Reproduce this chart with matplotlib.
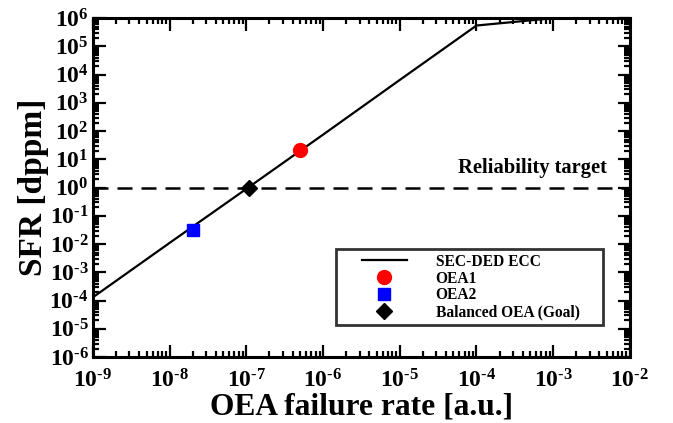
import numpy as np
import matplotlib
matplotlib.use('Agg')
import matplotlib.pyplot as plt
from matplotlib.lines import Line2D
from matplotlib.legend_handler import HandlerLine2D
from matplotlib.ticker import LogLocator, FuncFormatter, NullFormatter

plt.rcParams['font.family'] = 'Liberation Serif'
plt.rcParams['font.weight'] = 'bold'
plt.rcParams['mathtext.fontset'] = 'custom'
plt.rcParams['mathtext.rm'] = 'Liberation Serif:bold'
plt.rcParams['mathtext.bf'] = 'Liberation Serif:bold'

# SEC-DED ECC curve: silent failure rate vs OEA failure rate
oea_rate = [1e-9, 1e-8, 1e-7, 1e-6, 1e-5, 1e-4, 1e-3]
sfr = [1.3e-4, 1.1e-2, 0.9, 75, 6.5e3, 5.5e5, 1.0e6]

# operating points
oea1 = (5e-7, 21)
oea2 = (2e-8, 0.032)
balanced = (1.1e-7, 1.0)
target = 1.0

fig = plt.figure(figsize=(6.73, 4.23), dpi=100)
ax = fig.add_axes([0.138, 0.156, 0.798, 0.801])

ax.plot(oea_rate, sfr, color='black', lw=1.6, label='SEC-DED ECC', zorder=3)
ax.plot(*oea1, 'o', color='red', ms=10, ls='none', label='OEA1', zorder=4)
ax.plot(*oea2, 's', color='blue', ms=8.5, ls='none', label='OEA2', zorder=4)
ax.plot(*balanced, 'D', color='black', ms=8, ls='none', label='Balanced OEA (Goal)', zorder=5)
tl = ax.axhline(target, color='black', lw=1.8, zorder=2)
tl.set_dashes((6, 3.6))
ax.text(5e-3, 5, 'Reliability target', ha='right', va='center', fontsize=14.8, fontweight='bold')

ax.set_xscale('log')
ax.set_yscale('log')
ax.set_xlim(1e-9, 1e-2)
ax.set_ylim(1e-6, 1e6)

ax.xaxis.set_major_locator(LogLocator(base=10, numticks=20))
ax.yaxis.set_major_locator(LogLocator(base=10, numticks=20))
ax.xaxis.set_minor_locator(LogLocator(base=10, subs=np.arange(2, 10), numticks=200))
ax.yaxis.set_minor_locator(LogLocator(base=10, subs=np.arange(2, 10), numticks=200))
ax.xaxis.set_minor_formatter(NullFormatter())
ax.yaxis.set_minor_formatter(NullFormatter())


def decade(v, pos):
    e = int(round(np.log10(v)))
    if e < 0:
        return r'$\mathbf{10^{\text{-}%d}}$' % -e
    return r'$\mathbf{10^{%d}}$' % e


fmt = FuncFormatter(decade)
ax.xaxis.set_major_formatter(fmt)
ax.yaxis.set_major_formatter(fmt)

ax.tick_params(which='both', direction='in', top=True, right=True, width=1.6)
ax.tick_params(which='major', length=9, labelsize=17)
ax.tick_params(which='minor', length=4.5)
ax.tick_params(axis='x', which='major', pad=9)
ax.tick_params(axis='y', which='major', pad=3)
for s in ax.spines.values():
    s.set_linewidth(2.2)

ax.set_xlabel('OEA failure rate [a.u.]', fontsize=22.7, fontweight='bold', labelpad=0)
ax.set_ylabel('SFR [dppm]', fontsize=24, fontweight='bold', labelpad=0)

# indent the legend handles a bit from the frame
leg = ax.legend(loc='upper left', bbox_to_anchor=(0.4525, 0.3186 - 0.23, 0.497, 0.23),
                mode='expand', frameon=True, fancybox=False,
                prop={'family': 'Liberation Serif', 'weight': 'bold', 'size': 11.2},
                handlelength=4.25, handletextpad=1.86, labelspacing=0.05,
                borderpad=0.3, borderaxespad=0,
                handler_map={Line2D: HandlerLine2D(xpad=1.35)})
leg.get_frame().set_edgecolor('black')
leg.get_frame().set_linewidth(2)
leg.set_zorder(6)

fig.savefig('out.png', dpi=100)
